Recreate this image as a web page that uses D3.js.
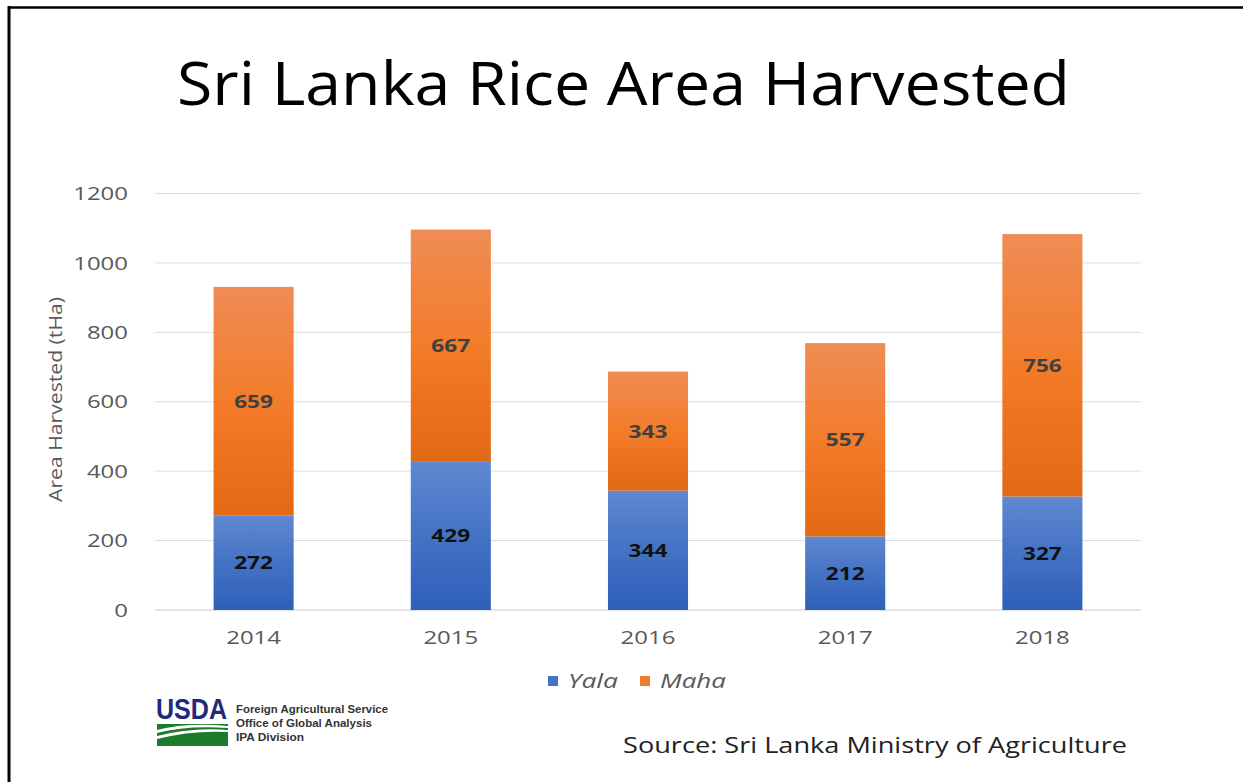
<!DOCTYPE html>
<html>
<head>
<meta charset="utf-8">
<script src="https://d3js.org/d3.v7.min.js"></script>
<style>
  body { margin: 0; background: #fff; }
  svg { display: block; font-family: "Open Sans", sans-serif; }
</style>
</head>
<body>
<script>
// chart data
var years = ["2014", "2015", "2016", "2017", "2018"];
var yala = [272, 429, 344, 212, 327];
var maha = [659, 667, 343, 557, 756];
var seriesNames = ["Yala", "Maha"];
var yTicks = [0, 200, 400, 600, 800, 1000, 1200];

var W = 1243, H = 782;
var plot = {left: 155, right: 1141, top: 193.5, bottom: 610};
var stretch = "scale(1.26,1)";  // the slide is drawn a bit wide

var svg = d3.select("body").append("svg")
  .attr("width", W)
  .attr("height", H);

// gradients for the bars
var defs = svg.append("defs");
function grad(id, top, mid, bot) {
  var g = defs.append("linearGradient").attr("id", id)
    .attr("x1", 0).attr("y1", 0).attr("x2", 0).attr("y2", 1);
  g.append("stop").attr("offset", "0%").attr("stop-color", top);
  g.append("stop").attr("offset", "50%").attr("stop-color", mid);
  g.append("stop").attr("offset", "100%").attr("stop-color", bot);
}
grad("gYala", "#5f88d0", "#4472c4", "#2e5fb9");
grad("gMaha", "#ef8c55", "#f37c2a", "#e26914");
var fills = {Yala: "url(#gYala)", Maha: "url(#gMaha)"};

// frame lines (top and left)
svg.append("line").attr("x1", 8).attr("x2", W).attr("y1", 7.5).attr("y2", 7.5)
  .attr("stroke", "#000").attr("stroke-width", 2.5);
svg.append("line").attr("x1", 9).attr("x2", 9).attr("y1", 6).attr("y2", H)
  .attr("stroke", "#000").attr("stroke-width", 3);

// title
svg.append("text")
  .attr("x", 177).attr("y", 105)
  .attr("font-size", 60)
  .attr("fill", "#000")
  .attr("textLength", 893)
  .attr("lengthAdjust", "spacingAndGlyphs")
  .text("Sri Lanka Rice Area Harvested");

var x = d3.scaleBand().domain(years).range([plot.left, plot.right]).paddingInner(0.594).paddingOuter(0.297);
var y = d3.scaleLinear().domain([0, 1200]).range([plot.bottom, plot.top]);

// gridlines
svg.append("g").selectAll("line")
  .data(yTicks)
  .enter().append("line")
  .attr("x1", plot.left).attr("x2", plot.right)
  .attr("y1", function(d) { return y(d); })
  .attr("y2", function(d) { return y(d); })
  .attr("stroke", "#dcdcdc")
  .attr("stroke-width", function(d) { return d == 0 ? 1.6 : 1; });

// y axis labels
var yAx = d3.axisLeft(y).tickValues(yTicks).tickFormat(d3.format("d")).tickSize(0).tickPadding(0);
var yG = svg.append("g")
  .attr("transform", "translate(128,0)")
  .call(yAx);
yG.select(".domain").remove();
yG.selectAll("text")
  .attr("font-family", "Open Sans, sans-serif")
  .attr("font-size", 19)
  .attr("fill", "#595959")
  .attr("transform", stretch);

// x axis labels
var xAx = d3.axisBottom(x).tickSize(0).tickPadding(0);
var xG = svg.append("g")
  .attr("transform", "translate(0,630)")
  .call(xAx);
xG.select(".domain").remove();
xG.selectAll("text")
  .attr("font-family", "Open Sans, sans-serif")
  .attr("font-size", 19)
  .attr("fill", "#595959")
  .attr("transform", stretch);

// axis title
svg.append("text")
  .attr("transform", "translate(62,400) rotate(-90)")
  .attr("x", -102)
  .attr("font-size", 18)
  .attr("fill", "#595959")
  .attr("textLength", 205)
  .attr("lengthAdjust", "spacingAndGlyphs")
  .text("Area Harvested (tHa)");

// stacked bars
var table = years.map(function(yr, i) { return {year: yr, Yala: yala[i], Maha: maha[i]}; });
var stack = d3.stack().keys(seriesNames)(table);

var layers = svg.append("g").selectAll("g")
  .data(stack)
  .enter().append("g");

layers.selectAll("rect")
  .data(function(d) { return d.map(function(p) { return {key: d.key, p: p}; }); })
  .enter().append("rect")
  .attr("x", function(d) { return x(d.p.data.year); })
  .attr("y", function(d) { return y(d.p[1]); })
  .attr("width", x.bandwidth())
  .attr("height", function(d) { return y(d.p[0]) - y(d.p[1]); })
  .attr("fill", function(d) { return fills[d.key]; });

// value labels
layers.selectAll("text")
  .data(function(d) { return d.map(function(p) { return {key: d.key, p: p}; }); })
  .enter().append("text")
  .attr("transform", function(d) {
    return "translate(" + (x(d.p.data.year) + x.bandwidth() / 2) + "," + ((y(d.p[0]) + y(d.p[1])) / 2) + ") " + stretch;
  })
  .attr("dy", "0.36em")
  .attr("text-anchor", "middle")
  .attr("font-size", 18)
  .attr("font-weight", "bold")
  .attr("fill", function(d) { return d.key == "Yala" ? "#111" : "#404040"; })
  .text(function(d) { return d.p[1] - d.p[0]; });

// legend
var legendW = [50, 66];
var legend = svg.append("g").selectAll("g")
  .data(seriesNames)
  .enter().append("g")
  .attr("transform", function(d, i) { return "translate(" + (548 + i * 92) + ",681)"; });
legend.append("rect")
  .attr("x", 0).attr("y", -5).attr("width", 10).attr("height", 10)
  .attr("fill", function(d) { return d == "Yala" ? "#4472c4" : "#ed7d31"; });
legend.append("text")
  .attr("x", 20).attr("y", 0).attr("dy", "0.36em")
  .attr("font-size", 20)
  .attr("font-style", "italic")
  .attr("fill", "#595959")
  .attr("textLength", function(d, i) { return legendW[i]; })
  .attr("lengthAdjust", "spacingAndGlyphs")
  .text(function(d) { return d; });

// USDA logo block
var logo = svg.append("g").attr("transform", "translate(157,697)");
logo.append("text")
  .attr("x", -1).attr("y", 22)
  .attr("font-family", "Liberation Sans Narrow, Liberation Sans, sans-serif")
  .attr("font-size", 29)
  .attr("font-weight", "bold")
  .attr("fill", "#1f2a78")
  .attr("textLength", 71)
  .attr("lengthAdjust", "spacingAndGlyphs")
  .text("USDA");
logo.append("path")
  .attr("d", "M0,27 L71,27 L71,49 L0,49 Z")
  .attr("fill", "#1c7a2c");
logo.append("path")
  .attr("d", "M0,33 Q30,25 71,29 L71,31 Q30,28 0,36 Z M0,39 Q35,30 71,33 L71,35 Q35,33 0,42 Z")
  .attr("fill", "#fff");
var logoLines = ["Foreign Agricultural Service", "Office of Global Analysis", "IPA Division"];
var logoW = [152, 136, 68];
logo.selectAll("text.sub")
  .data(logoLines)
  .enter().append("text")
  .attr("class", "sub")
  .attr("x", 79)
  .attr("y", function(d, i) { return 16 + i * 14; })
  .attr("font-family", "Liberation Sans Narrow, Liberation Sans, sans-serif")
  .attr("font-size", 10.5)
  .attr("font-weight", "bold")
  .attr("fill", "#333")
  .attr("textLength", function(d, i) { return logoW[i]; })
  .attr("lengthAdjust", "spacingAndGlyphs")
  .text(function(d) { return d; });

// source note
svg.append("text")
  .attr("x", 623).attr("y", 753)
  .attr("font-size", 22)
  .attr("fill", "#222")
  .attr("textLength", 504)
  .attr("lengthAdjust", "spacingAndGlyphs")
  .text("Source: Sri Lanka Ministry of Agriculture");
</script>
</body>
</html>
